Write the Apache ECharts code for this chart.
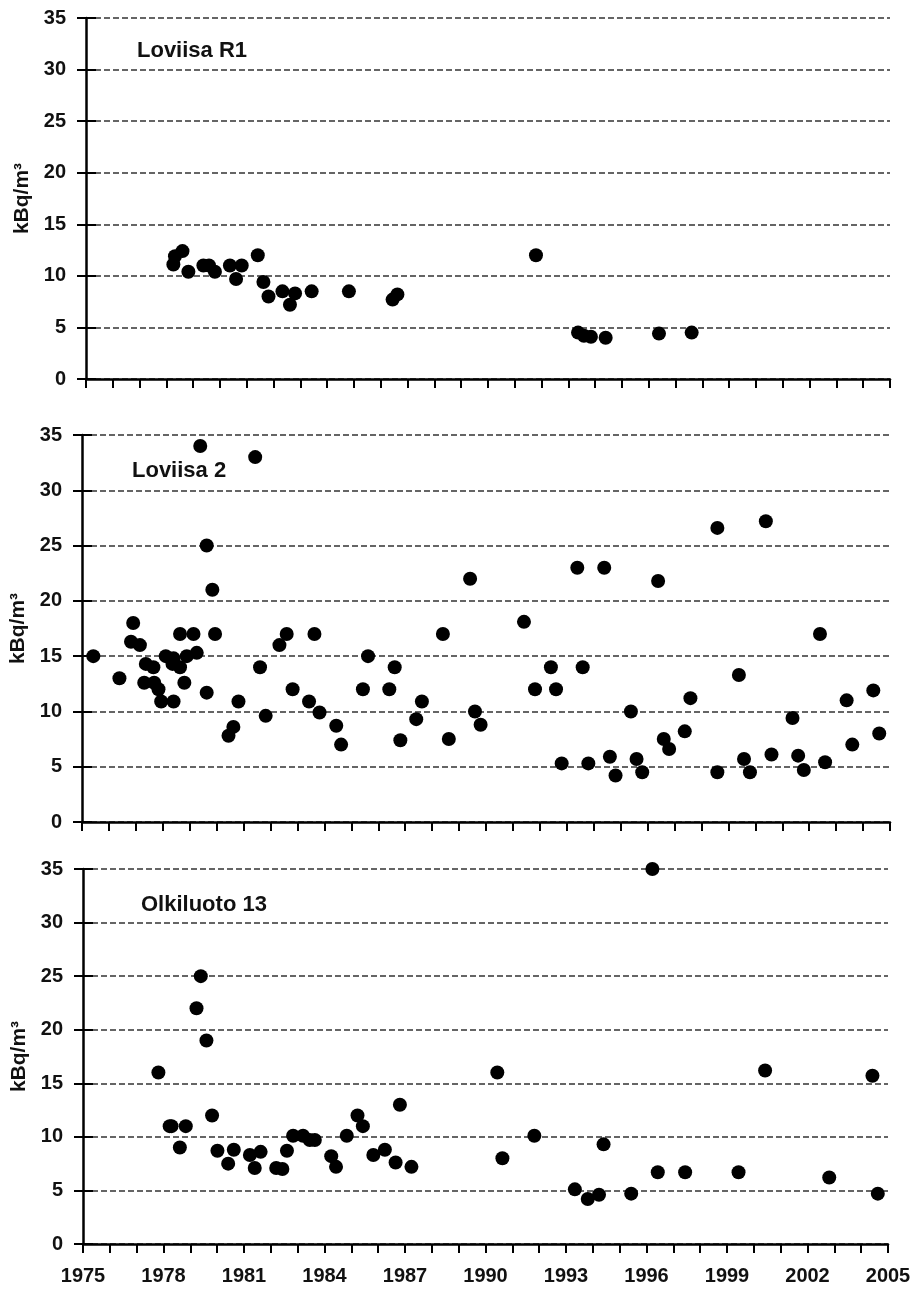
<!DOCTYPE html>
<html>
<head>
<meta charset="utf-8">
<script src="https://cdn.jsdelivr.net/npm/echarts@6/dist/echarts.min.js"></script>
<style>
  html, body { margin: 0; padding: 0; background: #fff; }
  #chart { width: 920px; height: 1291px; }
</style>
</head>
<body>
<div id="chart"></div>
<script>
// panel names
var panelNames = ['Loviisa R1', 'Loviisa 2', 'Olkiluoto 13'];

// Loviisa R1
var r1Years = [1978.26, 1978.32, 1978.6, 1978.82, 1979.38, 1979.59, 1979.81, 1980.37, 1980.6, 1980.81,
  1981.41, 1981.62, 1981.81, 1982.33, 1982.61, 1982.8, 1983.42, 1984.81, 1986.44, 1986.62,
  1991.79, 1993.36, 1993.58, 1993.84, 1994.39, 1996.38, 1997.6];
var r1Values = [11.1, 11.9, 12.4, 10.4, 11.0, 11.0, 10.4, 11.0, 9.7, 11.0,
  12.0, 9.4, 8.0, 8.5, 7.2, 8.3, 8.5, 8.5, 7.7, 8.2,
  12.0, 4.5, 4.2, 4.1, 4.0, 4.4, 4.5];

// Loviisa 2
var l2Years = [1975.42, 1976.39, 1976.9, 1976.82, 1977.15, 1977.37, 1977.31, 1977.65, 1977.68, 1977.84,
  1977.94, 1978.11, 1978.4, 1978.36, 1978.64, 1978.64, 1978.4, 1978.8, 1978.89, 1979.14,
  1979.26, 1979.39, 1979.63, 1979.63, 1979.84, 1979.94, 1980.44, 1980.62, 1980.81, 1981.43,
  1981.61, 1981.82, 1982.33, 1982.6, 1982.82, 1983.43, 1983.63, 1983.82, 1984.44, 1984.62,
  1985.43, 1985.62, 1986.41, 1986.61, 1986.82, 1987.41, 1987.62, 1988.4, 1988.62, 1989.41,
  1989.59, 1989.8, 1991.41, 1991.82, 1992.41, 1992.6, 1992.81, 1993.39, 1993.59, 1993.8,
  1994.39, 1994.6, 1994.81, 1995.38, 1995.59, 1995.8, 1996.39, 1996.6, 1996.8, 1997.38,
  1997.59, 1998.59, 1998.59, 1999.39, 1999.58, 1999.8, 2000.39, 2000.6, 2001.38, 2001.59,
  2001.8, 2002.4, 2002.59, 2003.39, 2003.6, 2004.38, 2004.6];
var l2Values = [15.0, 13.0, 18.0, 16.3, 16.0, 14.3, 12.6, 14.0, 12.6, 12.0,
  10.9, 15.0, 14.8, 14.3, 14.0, 17.0, 10.9, 12.6, 15.0, 17.0,
  15.3, 34.0, 25.0, 11.7, 21.0, 17.0, 7.8, 8.6, 10.9, 33.0,
  14.0, 9.6, 16.0, 17.0, 12.0, 10.9, 17.0, 9.9, 8.7, 7.0,
  12.0, 15.0, 12.0, 14.0, 7.4, 9.3, 10.9, 17.0, 7.5, 22.0,
  10.0, 8.8, 18.1, 12.0, 14.0, 12.0, 5.3, 23.0, 14.0, 5.3,
  23.0, 5.9, 4.2, 10.0, 5.7, 4.5, 21.8, 7.5, 6.6, 8.2,
  11.2, 26.6, 4.5, 13.3, 5.7, 4.5, 27.2, 6.1, 9.4, 6.0,
  4.7, 17.0, 5.4, 11.0, 7.0, 11.9, 8.0];

// Olkiluoto 13
var o13Years = [1977.81, 1978.23, 1978.3, 1978.83, 1978.61, 1979.23, 1979.39, 1979.6, 1979.81, 1980.01,
  1980.41, 1980.62, 1981.22, 1981.4, 1981.62, 1982.2, 1982.43, 1982.6, 1982.83, 1983.2,
  1983.45, 1983.64, 1984.25, 1984.43, 1984.83, 1985.23, 1985.43, 1985.82, 1986.25, 1986.65,
  1986.81, 1987.24, 1990.44, 1990.63, 1991.82, 1993.33, 1993.81, 1994.23, 1994.4, 1995.43,
  1996.22, 1996.42, 1997.44, 1999.43, 2000.42, 2002.81, 2004.42, 2004.62];
var o13Values = [16.0, 11.0, 11.0, 11.0, 9.0, 22.0, 25.0, 19.0, 12.0, 8.7,
  7.5, 8.8, 8.3, 7.1, 8.6, 7.1, 7.0, 8.7, 10.1, 10.1,
  9.7, 9.7, 8.2, 7.2, 10.1, 12.0, 11.0, 8.3, 8.8, 7.6,
  13.0, 7.2, 16.0, 8.0, 10.1, 5.1, 4.2, 4.6, 9.3, 4.7,
  35.0, 6.7, 6.7, 6.7, 16.2, 6.2, 15.7, 4.7];

var yearMin = 1975, yearMax = 2005, labelStep = 3;
var yMin = 0, yMax = 35, yStep = 5;

var panelYears = [r1Years, l2Years, o13Years];
var panelValues = [r1Values, l2Values, o13Values];

function pairs(xs, ys) {
  return xs.map(function (x, i) { return [x, ys[i]]; });
}

var font = 'Liberation Sans, Arial, sans-serif';
var grids = [
  { left: 86, right: 30, top: 18, height: 361, outerBoundsMode: 'none' },
  { left: 82, right: 30, top: 435, height: 387, outerBoundsMode: 'none' },
  { left: 83, right: 32, top: 869, height: 375, outerBoundsMode: 'none' }
];
var titleTops = [35, 455, 889];
var titleLefts = [132, 127, 136];

var xAxes = [], yAxes = [], series = [], titles = [];
grids.forEach(function (g, i) {
  xAxes.push({
    gridIndex: i,
    type: 'value',
    min: yearMin,
    max: yearMax,
    interval: 1,
    axisLine: { lineStyle: { color: '#000', width: 2.5 } },
    axisTick: { length: 9, lineStyle: { color: '#000', width: 2 } },
    axisLabel: {
      show: i === 2,
      margin: 22,
      color: '#111',
      fontFamily: font,
      fontWeight: 'bold',
      fontSize: 20,
      formatter: function (v) { return (v - yearMin) % labelStep === 0 ? String(v) : ''; }
    },
    splitLine: { show: false }
  });
  yAxes.push({
    gridIndex: i,
    type: 'value',
    min: yMin,
    max: yMax,
    interval: yStep,
    name: 'kBq/m³',
    nameLocation: 'middle',
    nameGap: 53,
    nameTextStyle: { color: '#111', fontFamily: font, fontWeight: 'bold', fontSize: 21 },
    axisLine: { show: true, lineStyle: { color: '#000', width: 2.5 } },
    axisTick: { show: true, length: 9, lineStyle: { color: '#000', width: 2 } },
    axisLabel: { margin: 20, color: '#111', fontFamily: font, fontWeight: 'bold', fontSize: 20 },
    splitLine: { show: true, lineStyle: { color: '#333', width: 1.5, type: [6, 3] } }
  });
  // inner half of the ticks
  yAxes.push({
    gridIndex: i,
    type: 'value',
    position: 'left',
    min: yMin,
    max: yMax,
    interval: yStep,
    axisLine: { show: false },
    axisTick: { show: true, inside: true, length: 10, lineStyle: { color: '#000', width: 2 } },
    axisLabel: { show: false },
    splitLine: { show: false }
  });
  series.push({
    type: 'scatter',
    xAxisIndex: i,
    yAxisIndex: i * 2,
    symbol: 'circle',
    symbolSize: 14,
    itemStyle: { color: '#000', opacity: 1 },
    silent: true,
    data: pairs(panelYears[i], panelValues[i])
  });
  titles.push({
    text: panelNames[i],
    left: titleLefts[i],
    top: titleTops[i],
    textStyle: { color: '#111', fontFamily: font, fontWeight: 'bold', fontSize: 22 }
  });
});

var chart = echarts.init(document.getElementById('chart'), null, { renderer: 'canvas' });
chart.setOption({
  animation: false,
  backgroundColor: '#fff',
  title: titles,
  grid: grids,
  xAxis: xAxes,
  yAxis: yAxes,
  series: series
});
</script>
</body>
</html>
